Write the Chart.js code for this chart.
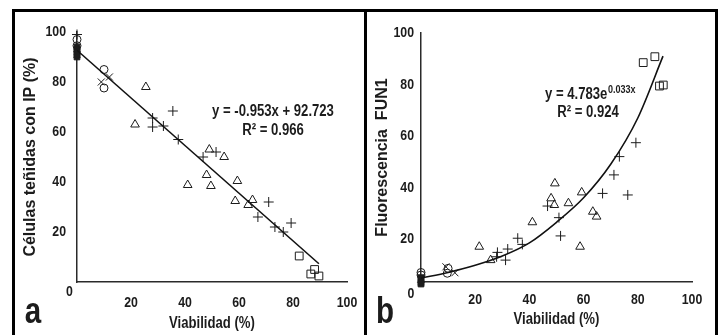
<!DOCTYPE html>
<html>
<head>
<meta charset="utf-8">
<script src="https://cdn.jsdelivr.net/npm/chart.js@4.4.1/dist/chart.umd.min.js"></script>
<style>
  html, body { margin: 0; padding: 0; background: #fff; width: 722px; height: 335px; overflow: hidden; }
  #frame { position: absolute; left: 12px; top: 9px; width: 700px; height: 340px; border: 3px solid #000; }
  #divider { position: absolute; left: 364px; top: 9px; width: 3px; height: 330px; background: #000; }
  canvas { position: absolute; top: 12px; }
  #panelA { left: 15px; }
  #panelB { left: 367px; }
</style>
</head>
<body>
<div id="frame"></div>
<div id="divider"></div>
<canvas id="panelA" width="349" height="323"></canvas>
<canvas id="panelB" width="348" height="323"></canvas>
<script>
// ── shared axis text ──
const X_TITLE = 'Viabilidad (%)';
const X_TICKS = [20, 40, 60, 80, 100];
const Y_TICKS = [20, 40, 60, 80, 100];

// ── panel a: Células teñidas con IP vs viabilidad ──
const aCircleX = [0, 0, 10, 10];
const aCircleY = [97, 94.5, 85, 77.6];
const aCrossX  = [0, 9, 12];
const aCrossY  = [91, 80, 82];
const aPlusX   = [0, 28, 28, 32, 35.5, 37.5, 46.7, 51.5, 71, 67, 73.3, 76.4, 79.3];
const aPlusY   = [99, 65.6, 62, 62.4, 68.4, 57, 50, 52, 32, 26, 22, 20, 23.6];
const aTriX    = [25.5, 21.5, 49, 54.5, 41, 48, 49.6, 59.4, 58.6, 63.4, 65];
const aTriY    = [78, 63, 53, 50, 38.8, 42.8, 38.4, 40.4, 32.4, 30.8, 32.8];
const aSquareX = [82.3, 88, 86.6, 89.6];
const aSquareY = [10.4, 5, 3.2, 2.4];
const aFilledX = [0, 0, 0, 0, 0];
const aFilledY = [94, 93, 92, 91, 90];
const aFitX    = [0, 89.6];
const aFitY    = [92.7, 7.3];
const aEquation = 'y = -0.953x + 92.723';
const aR2       = 'R² = 0.966';

// ── panel b: Fluorescencia FUN1 vs viabilidad ──
const bCircleX = [0, 0, 9.7, 10];
const bCircleY = [7, 6, 6.7, 8.6];
const bCrossX  = [0, 9.2, 12.5];
const bCrossY  = [4.5, 9.2, 6.9];
const bPlusX   = [79.3, 73.2, 71.2, 67, 76.3, 46.7, 50.9, 51.5, 35.7, 37.4, 32, 31.2, 28.2, 27.9];
const bPlusY   = [57.4, 52, 44.9, 37.7, 37.1, 32.8, 28.3, 21.2, 20.3, 17.9, 16.1, 11.8, 14.8, 13.1];
const bTriX    = [59.3, 49.4, 48, 49.2, 54.4, 63.4, 64.8, 58.7, 41.1, 21.5, 25.7];
const bTriY    = [38.1, 41.6, 35.8, 33.2, 33.9, 30.6, 28.7, 17, 26.5, 17, 11.8];
const bSquareX = [82, 86.3, 88, 89.4];
const bSquareY = [88.5, 90.8, 79.4, 79.8];
const bFilledX = [0, 0, 0, 0];
const bFilledY = [5, 4, 3, 2.5];
// exponential trend curve
const bFitX    = [0, 10, 20, 30, 40, 50, 60, 70, 80, 89.3];
const bFitY    = [4.8, 7.0, 9.8, 13.4, 18.5, 26.5, 36, 49, 67, 91];
const bEquation = 'y = 4.783e';
const bExponent = '0.033x';
const bR2       = 'R² = 0.924';

const FONT_WIDE = '"Liberation Sans", Arial, sans-serif';
const NARROW = 0.82;           // horizontal squeeze, the figure uses a condensed face
const INK  = '#1c1c1c';
const AXIS = '#2a2a2a';

function pts(xs, ys) { return xs.map((x, i) => ({ x: x, y: ys[i] })); }

function markers(xs, ys, style, radius, filled) {
    return {
        data: pts(xs, ys),
        pointStyle: style,
        pointRadius: radius,
        pointHoverRadius: radius,
        pointBorderColor: INK,
        pointBackgroundColor: filled ? INK : 'rgba(0,0,0,0)',
        pointBorderWidth: 1,
        showLine: false,
        clip: false
    };
}

function trend(xs, ys, smooth) {
    return {
        data: pts(xs, ys),
        showLine: true,
        borderColor: '#111',
        borderWidth: 1.6,
        pointRadius: 0,
        tension: smooth ? 0.4 : 0,
        cubicInterpolationMode: smooth ? 'monotone' : 'default',
        clip: false
    };
}

// condensed bold text, returns drawn width
function narrowText(ctx, text, x, y, size, align, baseline) {
    ctx.save();
    ctx.translate(x, y);
    ctx.scale(NARROW, 1);
    ctx.font = 'bold ' + size + 'px ' + FONT_WIDE;
    ctx.textAlign = align || 'center';
    ctx.textBaseline = baseline || 'middle';
    ctx.fillText(text, 0, 0);
    const w = ctx.measureText(text).width * NARROW;
    ctx.restore();
    return w;
}

// tick labels, x title, origin "0", panel letter, fit equation
const panelText = {
    id: 'panelText',
    afterDraw(chart, args, o) {
        const ctx = chart.ctx;
        const xs = chart.scales.x, ys = chart.scales.y, area = chart.chartArea;
        ctx.save();
        ctx.fillStyle = INK;

        X_TICKS.forEach(v => narrowText(ctx, String(v), xs.getPixelForValue(v), area.bottom + o.xTickOff, 15));
        Y_TICKS.forEach(v => narrowText(ctx, String(v), area.left - o.yTickPad, ys.getPixelForValue(v), 15, 'right'));
        narrowText(ctx, X_TITLE, (area.left + area.right) / 2, o.xTitleY, 16);
        narrowText(ctx, '0', o.zero[0], o.zero[1], 15);
        narrowText(ctx, o.letter, o.letterPos[0], o.letterPos[1], 36, 'center', 'alphabetic');

        if (o.exponent) {
            const w = narrowText(ctx, o.equation, o.eqPos[0], o.eqPos[1], 16, 'left');
            narrowText(ctx, o.exponent, o.eqPos[0] + w + 0.5, o.eqPos[1] - 5, 11, 'left');
        } else {
            narrowText(ctx, o.equation, o.eqPos[0], o.eqPos[1], 16);
        }
        narrowText(ctx, o.r2, o.r2Pos[0], o.r2Pos[1], 16);
        ctx.restore();
    }
};

function makePanel(id, datasets, opt) {
    return new Chart(document.getElementById(id), {
        type: 'scatter',
        data: { datasets: datasets },
        options: {
            responsive: false,
            animation: false,
            events: [],
            layout: { padding: { top: opt.padTop, right: opt.padRight, left: 0, bottom: 0 } },
            plugins: {
                legend: { display: false },
                tooltip: { enabled: false },
                panelText: opt.text
            },
            scales: {
                x: {
                    type: 'linear', min: 0, max: 100,
                    afterBuildTicks: s => { s.ticks = X_TICKS.map(v => ({ value: v })); },
                    afterFit: s => { s.height = opt.xHeight; },
                    grid: { display: false, drawTicks: false },
                    border: { display: true, color: AXIS, width: 1.5 },
                    ticks: { display: false }
                },
                y: {
                    type: 'linear', min: opt.yMin, max: 100,
                    afterBuildTicks: s => { s.ticks = Y_TICKS.map(v => ({ value: v })); },
                    afterFit: s => { s.width = opt.yWidth; },
                    grid: { display: false, drawTicks: false },
                    border: { display: true, color: AXIS, width: 1.5 },
                    ticks: { display: false },
                    title: {
                        display: true, text: opt.yTitle, color: INK,
                        font: { family: FONT_WIDE, size: 16, weight: 'bold' },
                        padding: { top: 6.4, bottom: 0 }
                    }
                }
            }
        },
        plugins: [panelText]
    });
}

makePanel('panelA', [
    trend(aFitX, aFitY, false),
    markers(aFilledX, aFilledY, 'rect', 4, true),
    markers(aCircleX, aCircleY, 'circle', 4, false),
    markers(aCrossX, aCrossY, 'crossRot', 5, false),
    markers(aPlusX, aPlusY, 'cross', 5, false),
    markers(aTriX, aTriY, 'triangle', 5, false),
    markers(aSquareX, aSquareY, 'rect', 5.5, false)
], {
    padTop: 20, padRight: 17, xHeight: 53, yWidth: 62, yMin: 0,
    yTitle: 'Células teñidas con IP (%)',
    text: {
        xTickOff: 21, yTickPad: 11, xTitleY: 312,
        zero: [54.5, 279.5], letter: 'a', letterPos: [18, 311],
        equation: aEquation, eqPos: [258, 100], r2: aR2, r2Pos: [258, 119]
    }
});

makePanel('panelB', [
    trend(bFitX, bFitY, true),
    markers(bFilledX, bFilledY, 'rect', 4, true),
    markers(bCircleX, bCircleY, 'circle', 4, false),
    markers(bCrossX, bCrossY, 'crossRot', 5, false),
    markers(bPlusX, bPlusY, 'cross', 5, false),
    markers(bTriX, bTriY, 'triangle', 5, false),
    markers(bSquareX, bSquareY, 'rect', 5.5, false)
], {
    padTop: 21, padRight: 23, xHeight: 53, yWidth: 54, yMin: 3.3,
    yTitle: 'Fluorescencia  FUN1',
    text: {
        xTickOff: 18, yTickPad: 7, xTitleY: 308,
        zero: [44, 282], letter: 'b', letterPos: [18, 311],
        equation: bEquation, exponent: bExponent, eqPos: [178, 83], r2: bR2, r2Pos: [221, 101]
    }
});
</script>
</body>
</html>
